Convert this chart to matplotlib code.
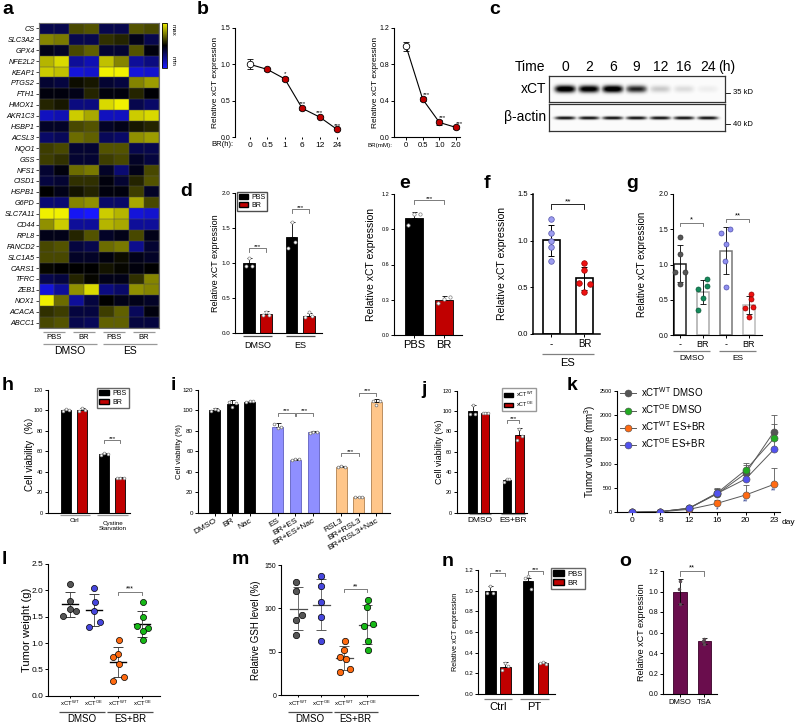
import numpy as np
import matplotlib
matplotlib.use("Agg")
import matplotlib.pyplot as plt
from matplotlib.transforms import blended_transform_factory
from matplotlib.colors import LinearSegmentedColormap
from matplotlib.patches import Patch
from matplotlib.lines import Line2D

plt.rcParams['font.family'] = ['Liberation Sans', 'DejaVu Sans']
plt.rcParams['axes.linewidth'] = 0.8
plt.rcParams['mathtext.default'] = 'regular'

W, H = 797, 722
fig = plt.figure(figsize=(W / 100, H / 100), dpi=100)

# ======================= DATA =======================
# a: heatmap
hm_genes = ['CS', 'SLC3A2', 'GPX4', 'NFE2L2', 'KEAP1', 'PTGS2', 'FTH1', 'HMOX1', 'AKR1C3', 'HSBP1',
            'ACSL3', 'NQO1', 'GSS', 'NFS1', 'CISD1', 'HSPB1', 'G6PD', 'SLC7A11', 'CD44', 'RPL8',
            'FANCD2', 'SLC1A5', 'CARS1', 'TFRC', 'ZEB1', 'NOX1', 'ACACA', 'ABCC1']
hm_values = np.array([
    [-0.30, -0.30, 0.30, 0.35, -0.30, -0.30, 0.35, 0.30],
    [0.55, 0.50, -0.30, -0.30, 0.20, 0.15, -0.10, -0.30],
    [-0.10, -0.15, 0.30, 0.40, -0.20, -0.20, 0.35, -0.05],
    [0.75, 0.90, -0.60, -0.70, 0.80, 0.55, -0.60, -0.50],
    [0.85, 0.80, -0.85, -0.80, 1.00, 1.00, -0.85, -0.80],
    [-0.20, -0.25, 0.05, 0.10, -0.20, -0.25, 0.55, 0.65],
    [-0.05, -0.05, -0.10, 0.15, -0.05, -0.05, 0.15, -0.02],
    [0.15, 0.10, -0.50, -0.50, 0.90, 1.00, -0.30, -0.40],
    [-0.75, -0.70, 0.85, 0.70, -0.75, -0.75, 0.85, 0.90],
    [-0.15, -0.15, 0.30, 0.35, -0.15, -0.10, 0.10, 0.15],
    [-0.40, -0.35, 0.45, 0.40, -0.35, -0.40, 0.60, 0.65],
    [0.25, 0.30, -0.20, -0.20, 0.35, 0.35, -0.30, -0.30],
    [0.25, 0.20, -0.20, -0.20, 0.25, 0.30, -0.15, -0.25],
    [-0.20, -0.05, 0.45, 0.50, -0.15, -0.45, -0.10, 0.30],
    [-0.25, -0.20, 0.20, 0.20, -0.05, -0.20, 0.15, 0.35],
    [0.00, -0.10, 0.08, 0.15, -0.05, -0.05, 0.25, -0.15],
    [-0.45, -0.45, 0.55, 0.60, -0.40, -0.40, 0.70, 0.30],
    [1.00, 1.00, -0.95, -1.00, 0.85, 0.75, -0.85, -0.80],
    [0.60, 0.85, -0.60, -0.60, 0.75, 0.70, -0.60, -0.60],
    [-0.10, -0.10, 0.15, 0.35, -0.15, -0.10, 0.30, -0.10],
    [0.30, 0.35, -0.25, -0.30, 0.45, 0.50, -0.55, -0.20],
    [0.30, 0.30, -0.15, -0.15, -0.05, 0.05, -0.10, -0.15],
    [0.03, 0.00, 0.00, 0.00, 0.08, 0.03, -0.05, 0.00],
    [-0.30, -0.25, 0.15, 0.03, -0.10, -0.10, 0.20, 0.55],
    [-0.85, -0.60, 0.60, 0.90, -0.50, -0.40, 0.60, 0.55],
    [1.00, 0.45, -0.60, -0.25, 0.00, -0.10, -0.10, -0.15],
    [0.20, 0.25, -0.25, -0.25, 0.25, 0.40, -0.35, -0.05],
    [0.30, 0.35, -0.30, -0.35, 0.40, 0.40, -0.25, -0.25],
])
hm_sub = ['PBS', 'BR', 'PBS', 'BR']
hm_groups = ['DMSO', 'ES']

# b
b1_labels = ['0', '0.5', '1', '6', '12', '24']
b1_vals = [1.0, 0.93, 0.80, 0.395, 0.275, 0.106]
b1_err = [0.07, 0.02, 0.03, 0.02, 0.02, 0.012]
b1_sig = ['', '', '*', '***', '***', '***']
b2_labels = ['0', '0.5', '1.0', '2.0']
b2_vals = [1.0, 0.415, 0.16, 0.105]
b2_err = [0.05, 0.02, 0.025, 0.012]
b2_sig = ['', '***', '***', '***']

# c: western blot
c_times = ['0', '2', '6', '9', '12', '16', '24']
c_xct = [1.0, 0.95, 1.0, 0.78, 0.28, 0.20, 0.12]
c_actin = [0.85, 0.85, 0.85, 0.85, 0.85, 0.85, 0.85]

# d
d_groups = ['DMSO', 'ES']
d_pbs = [1.0, 1.37]
d_pbs_err = [0.07, 0.22]
d_br = [0.27, 0.24]
d_br_err = [0.05, 0.05]
d_pbs_pts = [[0.96, 1.07, 0.96], [1.21, 1.59, 1.30]]
d_br_pts = [[0.25, 0.30, 0.26], [0.23, 0.30, 0.24]]

# e
e_labels = ['PBS', 'BR']
e_vals = [1.0, 0.298]
e_err = [0.05, 0.03]
e_pts = [[0.94, 1.03, 1.03], [0.27, 0.31, 0.32]]

# f
f_labels = ['-', 'BR']
f_pts = [[1.23, 1.08, 1.00, 0.93, 0.78], [0.76, 0.69, 0.55, 0.54, 0.45]]

# g
g_labels = ['-', 'BR', '-', 'BR']
g_pts = [[1.39, 1.15, 0.90, 0.89, 0.72],
         [0.80, 0.70, 0.65, 0.53, 0.36],
         [1.45, 1.50, 1.29, 1.05, 0.685],
         [0.577, 0.505, 0.39, 0.40, 0.25]]

# h
h_groups = ['Ctrl', 'Cystine\nStarvation']
h_pbs = [100, 57]
h_pbs_err = [1.5, 1.0]
h_br = [100, 34]
h_br_err = [2.0, 0.6]
h_pbs_pts = [[99, 101, 100], [56, 58, 57]]
h_br_pts = [[99, 102, 100], [34, 34, 34]]

# i
i_labels = ['DMSO', 'BR', 'Nac', 'ES', 'BR+ES', 'BR+ES+Nac', 'RSL3', 'BR+RSL3', 'BR+RSL3+Nac']
i_vals = [100, 106, 108, 84, 52, 79, 45, 15, 108]
i_err = [2, 4, 1, 4, 1, 1, 0.8, 0.8, 3]
i_pts = [[99, 101, 100], [108, 103, 107], [108, 109, 109], [87, 83, 84], [52, 53, 53],
         [78, 79, 79], [45, 46, 45], [15, 15, 15], [109, 105, 109]]

# j
j_groups = ['DMSO', 'ES+BR']
j_wt = [100, 32]
j_wt_err = [6, 1.5]
j_oe = [98, 76]
j_oe_err = [1, 7]
j_wt_pts = [[97, 106, 97], [30, 33, 33]]
j_oe_pts = [[98, 98, 98], [72, 82, 75]]

# k
k_days = ['0', '8', '12', '16', '20', '23']
k_wt_dmso = [0, 15, 80, 380, 800, 1660]
k_wt_dmso_err = [0, 10, 20, 100, 170, 340]
k_oe_dmso = [0, 15, 80, 400, 870, 1520]
k_oe_dmso_err = [0, 10, 20, 90, 150, 300]
k_wt_esbr = [0, 10, 60, 185, 356, 575]
k_wt_esbr_err = [0, 8, 15, 60, 200, 330]
k_oe_esbr = [0, 15, 85, 390, 685, 1295]
k_oe_esbr_err = [0, 10, 20, 80, 120, 200]
k_sig = ['', '', '', '*', '**', '**']

# l
l_labels = ['xCT$^{WT}$', 'xCT$^{OE}$', 'xCT$^{WT}$', 'xCT$^{OE}$']
l_pts = [[2.12, 1.80, 1.64, 1.61, 1.51],
         [2.04, 1.78, 1.61, 1.39, 1.31],
         [1.06, 0.79, 0.74, 0.60, 0.36, 0.285],
         [1.77, 1.49, 1.32, 1.28, 1.23, 1.06]]

# m
m_pts = [[130, 120, 92, 87, 69],
         [137, 126, 107, 90, 62],
         [62, 52, 44, 41.5, 30, 26],
         [110, 102, 81.5, 80, 62, 52]]

# n
n_groups = ['Ctrl', 'PT']
n_pbs = [1.0, 1.09]
n_pbs_err = [0.05, 0.03]
n_br = [0.265, 0.30]
n_br_err = [0.045, 0.012]
n_pbs_pts = [[0.98, 1.05, 0.98], [1.12, 1.14, 1.02]]
n_br_pts = [[0.23, 0.30, 0.27], [0.30, 0.31, 0.29]]

# o
o_labels = ['DMSO', 'TSA']
o_vals = [1.0, 0.515]
o_err = [0.12, 0.03]
o_pts = [[1.10, 1.02, 0.88], [0.54, 0.52, 0.49]]

# ======================= HELPERS =======================
RED = '#c00000'


def make_ax(l, t, r, b, spines=('left', 'bottom')):
    ax = fig.add_axes([l / W, 1 - b / H, (r - l) / W, (b - t) / H])
    ax._px = (l, t, r, b)
    for s in ['top', 'right', 'left', 'bottom']:
        ax.spines[s].set_visible(s in spines)
    ax.tick_params(length=2, width=0.7, labelsize=5, pad=1.5)
    return ax


def fx(ax, x):
    l, t, r, b = ax._px
    return (x - l) / (r - l)


def fy(ax, y):
    l, t, r, b = ax._px
    return (b - y) / (b - t)


def ylab(ax, text, xc, fs, **kw):
    ax.set_ylabel(text, fontsize=fs, **kw)
    ax.yaxis.set_label_coords(fx(ax, xc + fs * 0.55), 0.5)


def grp(ax, x0, x1, yl, label=None, yt=None, fs=7, color='0.6', lw=0.9):
    tr = blended_transform_factory(ax.transData, ax.transAxes)
    ax.plot([x0, x1], [fy(ax, yl)] * 2, transform=tr, clip_on=False, color=color, lw=lw,
            solid_capstyle='butt')
    if label is not None:
        ax.text((x0 + x1) / 2, fy(ax, yt), label, transform=tr, ha='center', va='center',
                fontsize=fs, linespacing=1.0)


def sig(ax, x0, x1, y, h, s, fs=5, color='0.4'):
    ax.plot([x0, x0, x1, x1], [y - h, y, y, y - h], color=color, lw=0.6, clip_on=False)
    ax.annotate(s, ((x0 + x1) / 2, y), xytext=(0, -0.5), textcoords='offset points',
                ha='center', va='bottom', fontsize=fs)


def dots(ax, x, ys, offs, fc, ec, ms, lw=0.5, z=5):
    ys = np.asarray(ys, float)
    xs = x + np.asarray(offs, float)[:len(ys)]
    ax.scatter(xs, ys, s=ms ** 2, c=fc, edgecolors=ec, linewidths=lw, zorder=z, clip_on=False)


def barset(ax, xs, vals, errs, color, width, ec='black', lw=0.6, up_only=True):
    ax.bar(xs, vals, width, color=color, edgecolor=ec, linewidth=lw, zorder=2)
    lo = np.zeros(len(vals)) if up_only else errs
    ax.errorbar(xs, vals, yerr=[lo, errs], fmt='none', ecolor='black', elinewidth=0.6,
                capsize=1.8, capthick=0.6, zorder=3)


def letter(x, y, s):
    fig.text(x / W, 1 - y / H, s, fontsize=14, fontweight='bold', ha='left', va='center')


def fmt1(ticks):
    return ['%.1f' % t for t in ticks]


OFF3 = [-0.2, 0.0, 0.2]

# ======================= PANEL a =======================
cmap_hm = LinearSegmentedColormap.from_list('hm', ['#1818ff', '#000000', '#f0f000'])
ax = make_ax(39, 23, 159, 328, spines=('left', 'bottom', 'top', 'right'))
im = ax.imshow(hm_values, cmap=cmap_hm, vmin=-1, vmax=1, aspect='auto', interpolation='nearest')
ax.set_xticks(np.arange(-0.5, 8, 1), minor=True)
ax.set_yticks(np.arange(-0.5, len(hm_genes), 1), minor=True)
ax.grid(which='minor', color='#505050', lw=0.35)
ax.tick_params(which='minor', length=0)
ax.set_xticks([])
ax.set_yticks(range(len(hm_genes)))
ax.set_yticklabels(hm_genes, fontstyle='italic', fontsize=5.2)
ax.tick_params(axis='y', length=2, width=0.5, pad=1)
for s in ax.spines.values():
    s.set_color('#707070')
    s.set_linewidth(0.8)
for k, lab in enumerate(hm_sub):
    grp(ax, 2 * k - 0.25, 2 * k + 1.25, 331.5, lab, 337.5, fs=5.5)
for k, lab in enumerate(hm_groups):
    grp(ax, 4 * k - 0.25, 4 * k + 3.35, 343.5, lab, 351, fs=7.5)

cax = make_ax(162, 23, 167, 68, spines=('left', 'bottom', 'top', 'right'))
cb = fig.colorbar(im, cax=cax)
cb.set_ticks([])
cb.outline.set_linewidth(0.6)
cax.text(2.2, 0.85, 'max', rotation=270, transform=cax.transAxes, fontsize=4.5, ha='center', va='center')
cax.text(2.2, 0.15, 'min', rotation=270, transform=cax.transAxes, fontsize=4.5, ha='center', va='center')

# ======================= PANEL b =======================
ax = make_ax(235, 28, 342, 137, spines=('left',))
x = np.arange(len(b1_vals))
ax.errorbar(x, b1_vals, yerr=b1_err, fmt='none', ecolor='black', elinewidth=0.6, capsize=2,
            capthick=0.6, zorder=2)
ax.plot(x, b1_vals, color='black', lw=0.8, zorder=3)
ax.scatter(x[:1], b1_vals[:1], s=22, facecolor='white', edgecolor='black', lw=0.6, zorder=4)
ax.scatter(x[1:], b1_vals[1:], s=22, facecolor=RED, edgecolor='black', lw=0.6, zorder=4)
for xi, v, e, s in zip(x, b1_vals, b1_err, b1_sig):
    if s:
        ax.text(xi, v + e + 0.01, s, ha='center', va='bottom', fontsize=4.5)
ax.set_xlim(-0.86, 5.29)
ax.set_ylim(0, 1.5)
ax.set_yticks([0, 0.5, 1.0, 1.5])
ax.set_yticklabels(fmt1([0, 0.5, 1.0, 1.5]))
ax.set_xticks(x)
ax.set_xticklabels(b1_labels, fontsize=6)
ax.tick_params(axis='x', length=1.5, pad=2)
ax.text(fx(ax, 233), fy(ax, 145), 'BR(h):', transform=ax.transAxes, ha='right', va='center', fontsize=5.5)
ylab(ax, 'Relative xCT expression', 216, 6)

ax = make_ax(394, 28, 460, 137)
x = np.arange(len(b2_vals))
ax.errorbar(x, b2_vals, yerr=b2_err, fmt='none', ecolor='black', elinewidth=0.6, capsize=2,
            capthick=0.6, zorder=2)
ax.plot(x, b2_vals, color='black', lw=0.8, zorder=3)
ax.scatter(x[:1], b2_vals[:1], s=22, facecolor='white', edgecolor='black', lw=0.6, zorder=4)
ax.scatter(x[1:], b2_vals[1:], s=22, facecolor=RED, edgecolor='black', lw=0.6, zorder=4)
for xi, v, e, s in zip(x, b2_vals, b2_err, b2_sig):
    if s:
        ax.text(xi + 0.2, v + e + 0.005, s, ha='center', va='bottom', fontsize=4.5)
ax.set_xlim(-0.72, 3.23)
ax.set_ylim(0, 1.2)
ax.set_yticks([0, 0.4, 0.8, 1.2])
ax.set_yticklabels(fmt1([0, 0.4, 0.8, 1.2]))
ax.set_xticks(x)
ax.set_xticklabels(b2_labels, fontsize=5.5)
ax.text(fx(ax, 392), fy(ax, 146), 'BR(mM):', transform=ax.transAxes, ha='right', va='center', fontsize=4.5)
ylab(ax, 'Relative xCT expression', 376, 6)

# ======================= PANEL c =======================
lane_x = np.linspace(16, 159, len(c_times))
bw = 176.0


def blot_image(ints, sy, yc, hpx, sx=11.0):
    xs = np.linspace(0, bw, 360)
    ys = np.linspace(0, hpx, 60)
    X, Y = np.meshgrid(xs, ys)
    img = np.full(X.shape, 0.03)
    for c, a in zip(lane_x, ints):
        prof = np.exp(-(np.abs(X - c) / sx) ** 4) * np.exp(-((Y - yc) / sy) ** 2)
        img = np.maximum(img, a * prof)
    return np.clip(img * 1.15, 0, 1), hpx


for (t, b), ints, sy, yc, lab, kd in [((76, 102), c_xct, 4.2, 13, 'xCT', '35 kD'),
                                       ((104, 131), c_actin, 1.9, 14, 'β-actin', '40 kD')]:
    ax = make_ax(549, t, 725, b, spines=('left', 'bottom', 'top', 'right'))
    img, hpx = blot_image(ints, sy, yc, b - t)
    ax.imshow(img, cmap='Greys', vmin=0, vmax=1, aspect='auto', extent=(0, bw, hpx, 0),
              interpolation='bilinear')
    ax.set_xlim(0, bw)
    ax.set_ylim(hpx, 0)
    ax.set_xticks([])
    ax.set_yticks([])
    for s in ax.spines.values():
        s.set_linewidth(0.9)
        s.set_color('#333333')
    ax.text(fx(ax, 546), 0.5, lab, transform=ax.transAxes, ha='right', va='center', fontsize=10)
    yk = 93 if lab == 'xCT' else 124
    ax.plot([1.0, 1.03], [fy(ax, yk)] * 2, transform=ax.transAxes, color='black', lw=0.6, clip_on=False)
    ax.text(1.045, fy(ax, yk), kd, transform=ax.transAxes, ha='left', va='center', fontsize=5.5)
    if lab == 'xCT':
        for lx, tt in zip(lane_x, c_times):
            ax.text(lx, fy(ax, 67), tt, transform=blended_transform_factory(ax.transData, ax.transAxes),
                    ha='center', va='center', fontsize=10)
        ax.text(fx(ax, 545), fy(ax, 67), 'Time', transform=ax.transAxes, ha='right', va='center', fontsize=10)
        ax.text(fx(ax, 718), fy(ax, 67), '(h)', transform=ax.transAxes, ha='left', va='center', fontsize=10)

# ======================= PANEL d =======================
ax = make_ax(235, 193, 322, 333)
xp = np.array([0, 2.5])
xb = xp + 1
barset(ax, xp, d_pbs, d_pbs_err, 'black', 0.7)
barset(ax, xb, d_br, d_br_err, RED, 0.7)
for xi, pts in zip(xp, d_pbs_pts):
    dots(ax, xi, pts, OFF3, 'white', '0.55', 2.2)
for xi, pts in zip(xb, d_br_pts):
    dots(ax, xi, pts, OFF3, 'white', '0.55', 2.2)
ax.set_xlim(-0.82, 4.29)
ax.set_ylim(0, 2.0)
ax.set_yticks([0, 0.5, 1.0, 1.5, 2.0])
ax.set_yticklabels(fmt1([0, 0.5, 1.0, 1.5, 2.0]), fontsize=4.5)
ax.set_xticks([])
ylab(ax, 'Relative xCT expression', 216, 6.5)
sig(ax, 0, 1, 1.21, 0.06, '***', fs=4.5)
sig(ax, 2.5, 3.5, 1.77, 0.06, '***', fs=4.5)
grp(ax, -0.35, 1.35, 336, d_groups[0], 346, fs=6.5, color='0.3')
grp(ax, 2.15, 3.9, 336, d_groups[1], 346, fs=6.5, color='0.3')
ax.legend(handles=[Patch(fc='black', ec='black', label='PBS'), Patch(fc=RED, ec='black', label='BR')],
          loc='upper left', bbox_to_anchor=(fx(ax, 237), fy(ax, 192)), fontsize=5,
          handlelength=1.4, handleheight=0.7, borderpad=0.25, labelspacing=0.2, handletextpad=0.4,
          fancybox=False, edgecolor='0.3', framealpha=1, borderaxespad=0)

# ======================= PANEL e =======================
ax = make_ax(394, 194, 462, 335)
x = np.arange(2)
barset(ax, x, e_vals, e_err, ['black', RED], 0.6)
for xi, pts in zip(x, e_pts):
    dots(ax, xi, pts, OFF3, 'white', '0.5', 2.4)
ax.set_xlim(-0.67, 1.6)
ax.set_ylim(0, 1.2)
ax.set_yticks([0, 0.3, 0.6, 0.9, 1.2])
ax.set_yticklabels(fmt1([0, 0.3, 0.6, 0.9, 1.2]), fontsize=4)
ax.set_xticks(x)
ax.set_xticklabels(e_labels, fontsize=8)
ylab(ax, 'Relative xCT expression', 372, 7.5)
sig(ax, 0, 1, 1.145, 0.03, '***', fs=4.5)

# ======================= PANEL f =======================
ax = make_ax(533, 194, 600, 334)
x = np.arange(2)
f_mean = [np.mean(p) for p in f_pts]
f_sd = [np.std(p, ddof=1) for p in f_pts]
ax.bar(x, f_mean, 0.52, color='white', edgecolor='black', linewidth=1.2, zorder=2)
ax.errorbar(x, f_mean, yerr=f_sd, fmt='none', ecolor='black', elinewidth=0.7, capsize=2, capthick=0.7, zorder=3)
dots(ax, 0, f_pts[0], [0, 0, 0, 0, 0], '#9c9cf0', '#5555aa', 4.0)
dots(ax, 1, f_pts[1], [0, 0, -0.18, 0.18, 0], '#ee1111', '#990000', 4.0)
ax.set_xlim(-0.56, 1.47)
ax.set_ylim(0, 1.5)
ax.set_yticks([0, 0.5, 1.0, 1.5])
ax.set_yticklabels(fmt1([0, 0.5, 1.0, 1.5]), fontsize=5.5)
ax.spines['left'].set_linewidth(1.1)
ax.spines['bottom'].set_linewidth(1.1)
ax.set_xticks(x)
ax.set_xticklabels(f_labels, fontsize=7)
ylab(ax, 'Relative xCT expression', 503, 7.5)
sig(ax, 0, 1, 1.39, 0.05, '**', fs=6, color='black')
grp(ax, -0.3, 1.3, 354, 'ES', 363, fs=8, color='0.5')

# ======================= PANEL g =======================
ax = make_ax(673, 194, 762, 335)
x = np.arange(4)
g_mean = [np.mean(p) for p in g_pts]
g_sd = [np.std(p, ddof=1) for p in g_pts]
g_edges = ['#222222', '#aaaaaa', '#777777', '#bbbbbb']
g_fc = ['#555555', '#138a5a', '#8f8ff0', '#ee1111']
g_ec = ['#333333', '#0a5a3a', '#5050aa', '#990000']
ax.bar(x, g_mean, 0.55, color='white', edgecolor=g_edges, linewidth=1.1, zorder=2)
ax.errorbar(x, g_mean, yerr=g_sd, fmt='none', ecolor='black', elinewidth=0.6, capsize=2, capthick=0.6, zorder=3)
g_offs = [[0, 0, -0.22, 0.22, 0], [0.2, 0.2, -0.2, 0, -0.2], [-0.2, 0.2, 0, -0.05, 0], [0.1, 0.1, -0.18, 0.18, 0]]
for xi, pts, fc, ec, of in zip(x, g_pts, g_fc, g_ec, g_offs):
    dots(ax, xi, pts, of, fc, ec, 3.6)
ax.set_xlim(-0.3, 3.57)
ax.set_ylim(0, 2.0)
ax.set_yticks([0, 0.5, 1.0, 1.5, 2.0])
ax.set_yticklabels(fmt1([0, 0.5, 1.0, 1.5, 2.0]), fontsize=5)
ax.set_xticks(x)
ax.set_xticklabels(g_labels, fontsize=6.5)
ylab(ax, 'Relative xCT expression', 643, 7)
sig(ax, 0, 1, 1.59, 0.05, '*', fs=5.5)
sig(ax, 2, 3, 1.65, 0.05, '**', fs=5.5)
grp(ax, -0.3, 1.3, 351, 'DMSO', 359, fs=6, color='0.5')
grp(ax, 1.7, 3.3, 351, 'ES', 359, fs=6, color='0.5')

# ======================= PANEL h =======================
ax = make_ax(48, 390, 130, 512.7)
xp = np.array([0, 2.4])
xb = xp + 1
barset(ax, xp, h_pbs, h_pbs_err, 'black', 0.62)
barset(ax, xb, h_br, h_br_err, RED, 0.62)
for xi, pts in zip(np.r_[xp, xb], h_pbs_pts + h_br_pts):
    dots(ax, xi, pts, OFF3, 'white', '0.5', 2.0)
ax.set_xlim(-1.125, 4.0)
ax.set_ylim(0, 120)
ax.set_yticks(range(0, 121, 20))
ax.tick_params(axis='y', labelsize=4)
ax.set_xticks([])
ax.set_ylabel('Cell viability（%）', fontsize=7, family=['Liberation Sans', 'Noto Sans CJK SC'])
ax.yaxis.set_label_coords(fx(ax, 35), 0.5)
sig(ax, 2.4, 3.4, 71, 2.5, '***', fs=4.5)
grp(ax, -0.4, 1.5, 515, h_groups[0], 521, fs=4.5, color='0.6')
grp(ax, 1.95, 3.9, 515, h_groups[1], 526, fs=4.5, color='0.6')
ax.legend(handles=[Patch(fc='black', ec='black', label='PBS'), Patch(fc=RED, ec='black', label='BR')],
          loc='upper left', bbox_to_anchor=(fx(ax, 97), fy(ax, 388)), fontsize=5,
          handlelength=1.4, handleheight=0.8, borderpad=0.3, labelspacing=0.25, handletextpad=0.5,
          fancybox=False, edgecolor='0.4', framealpha=1, borderaxespad=0)

# ======================= PANEL i =======================
ax = make_ax(198, 390, 390, 512.7)
i_x = np.array([0, 1, 2, 3.6, 4.6, 5.6, 7.2, 8.2, 9.2])
i_col = ['black'] * 3 + ['#8f8fff'] * 3 + ['#ffc68a'] * 3
i_ec = ['black'] * 3 + ['#6060c0'] * 3 + ['#b08050'] * 3
barset(ax, i_x, i_vals, i_err, i_col, 0.62, ec=i_ec, lw=0.6)
for xi, pts in zip(i_x, i_pts):
    dots(ax, xi, pts, OFF3, 'white', '0.45', 2.0)
ax.set_xlim(-0.94, 9.97)
ax.set_ylim(0, 120)
ax.set_yticks(range(0, 121, 20))
ax.tick_params(axis='y', labelsize=4.5)
ax.set_xticks(i_x)
ax.set_xticklabels(i_labels, rotation=30, ha='right', rotation_mode='anchor', fontsize=6)
ax.tick_params(axis='x', pad=1)
ylab(ax, 'Cell viability (%)', 180, 5.5)
sig(ax, 3.6, 4.55, 97.8, 3, '***', fs=4.5)
sig(ax, 4.65, 5.6, 97.8, 3, '***', fs=4.5)
sig(ax, 7.2, 8.2, 58.4, 3, '***', fs=4.5)
sig(ax, 8.2, 9.2, 117.4, 3, '***', fs=4.5)

# ======================= PANEL j =======================
ax = make_ax(457, 390.7, 527, 512.7)
xp = np.array([0, 2.75])
xb = xp + 1
barset(ax, xp, j_wt, j_wt_err, 'black', 0.7)
barset(ax, xb, j_oe, j_oe_err, RED, 0.7)
for xi, pts in zip(np.r_[xp, xb], j_wt_pts + j_oe_pts):
    dots(ax, xi, pts, OFF3, 'white', '0.5', 2.0)
ax.set_xlim(-1.24, 4.36)
ax.set_ylim(0, 120)
ax.set_yticks(range(0, 121, 20))
ax.tick_params(axis='y', labelsize=4)
ax.set_xticks([])
ylab(ax, 'Cell viability (%)', 440, 6.5)
sig(ax, 2.75, 3.75, 91, 2.5, '***', fs=4.5)
grp(ax, -0.3, 1.5, 514, j_groups[0], 521, fs=6, color='0.6')
grp(ax, 2.3, 4.2, 514, j_groups[1], 521, fs=6, color='0.6')
ax.legend(handles=[Patch(fc='black', ec='black', label='xCT$^{WT}$'),
                   Patch(fc=RED, ec='black', label='xCT$^{OE}$')],
          loc='upper left', bbox_to_anchor=(fx(ax, 502), fy(ax, 388)), fontsize=4,
          handlelength=1.6, handleheight=0.6, borderpad=0.3, labelspacing=0.15, handletextpad=0.6,
          fancybox=False, edgecolor='0.6', framealpha=1, borderaxespad=0)

# ======================= PANEL k =======================
ax = make_ax(617, 390.7, 780, 512.3)
x = np.arange(len(k_days))
k_series = [(k_wt_dmso, k_wt_dmso_err, '#555555', 'xCT$^{WT}$ DMSO'),
            (k_oe_dmso, k_oe_dmso_err, '#22aa22', 'xCT$^{OE}$ DMSO'),
            (k_wt_esbr, k_wt_esbr_err, '#ff6a13', 'xCT$^{WT}$ ES+BR'),
            (k_oe_esbr, k_oe_esbr_err, '#5252ee', 'xCT$^{OE}$ ES+BR')]
handles = []
for vals, errs, col, lab in k_series:
    ax.errorbar(x, vals, yerr=[np.zeros(len(errs)), errs], fmt='none', ecolor='0.35', elinewidth=0.6,
                capsize=2, capthick=0.6, zorder=2)
    ax.plot(x, vals, color='0.35', lw=0.7, zorder=3)
    ax.scatter(x, vals, s=26, c=col, edgecolors='0.3', linewidths=0.4, zorder=4)
    handles.append(Line2D([0], [0], color='0.35', lw=0.7, marker='o', ms=5, mfc=col, mec='0.3', mew=0.4, label=lab))
for xi, v, s in zip(x, k_wt_esbr, k_sig):
    if s:
        ax.text(xi, v - 60, s, ha='center', va='top', fontsize=5, color='#2a3a8a')
ax.set_xlim(-0.53, 5.21)
ax.set_ylim(0, 2500)
ax.set_yticks(range(0, 2501, 500))
ax.tick_params(axis='y', labelsize=4)
ax.set_xticks(x)
ax.set_xticklabels(k_days, fontsize=6)
ax.text(fx(ax, 782), fy(ax, 522), 'day', transform=ax.transAxes, ha='left', va='center', fontsize=6)
ylab(ax, 'Tumor volume (mm$^3$)', 594, 7)
ax.legend(handles=handles, loc='upper left', bbox_to_anchor=(fx(ax, 620), fy(ax, 385)), fontsize=7,
          frameon=False, handlelength=1.6, handletextpad=0.6, labelspacing=0.35, borderaxespad=0,
          borderpad=0)

# ======================= PANEL l =======================
l_cols = ['#555555', '#4646dd', '#ff6a10', '#16b816']
ax = make_ax(48, 564, 160, 695.7)
x = np.arange(4)
l_offs = [[0, 0, 0, 0.27, -0.27], [0.02, 0.05, 0, 0.24, -0.21],
          [0.03, 0, -0.2, 0.03, 0.27, -0.2], [0.03, 0.03, -0.22, 0.26, 0.03, 0.03]]
for xi, pts, col, of in zip(x, l_pts, l_cols, l_offs):
    m = np.mean(pts)
    sd = np.std(pts, ddof=1)
    ax.plot([xi - 0.33, xi + 0.33], [m, m], color='black', lw=1.0, zorder=3)
    ax.errorbar([xi], [m], yerr=[[sd], [sd]], fmt='none', ecolor='0.25', elinewidth=0.6, capsize=3.5,
                capthick=0.7, zorder=3)
    dots(ax, xi, pts, of, col, 'black', 4.4, lw=0.5)
ax.set_xlim(-0.89, 3.74)
ax.set_ylim(0, 2.5)
ax.set_yticks([0, 0.5, 1.0, 1.5, 2.0, 2.5])
ax.set_yticklabels(fmt1([0, 0.5, 1.0, 1.5, 2.0, 2.5]), fontsize=6)
ax.set_xticks(x)
ax.set_xticklabels(l_labels, fontsize=4.3)
ax.tick_params(axis='x', length=1.5, pad=1)
ylab(ax, 'Tumor weight (g)', 28, 8)
sig(ax, 2, 3, 1.97, 0.06, '***', fs=5)
grp(ax, -0.45, 1.45, 711.5, 'DMSO', 718.5, fs=7, color='0.3')
grp(ax, 1.55, 3.45, 711.5, 'ES+BR', 718.5, fs=7, color='0.3')

# ======================= PANEL m =======================
ax = make_ax(281, 565, 418, 695)
m_offs = [[-0.1, -0.1, 0.15, -0.1, -0.1], [0, 0, 0, 0, 0],
          [0.05, 0.0, -0.2, 0.08, 0.24, -0.2], [0.03, 0, 0.27, -0.16, 0.03, 0.03]]
for xi, pts, col, of in zip(x, m_pts, l_cols, m_offs):
    mval = np.mean(pts)
    sd = np.std(pts, ddof=1)
    ax.plot([xi - 0.37, xi + 0.37], [mval, mval], color='0.3', lw=0.9, zorder=3)
    ax.errorbar([xi], [mval], yerr=[[sd], [sd]], fmt='none', ecolor='0.35', elinewidth=0.6, capsize=3.5,
                capthick=0.7, zorder=3)
    dots(ax, xi, pts, of, col, 'black', 4.6, lw=0.5)
ax.set_xlim(-0.74, 5.2)
ax.set_ylim(0, 150)
ax.set_yticks([0, 50, 100, 150])
ax.tick_params(axis='y', labelsize=5)
ax.set_xticks(x)
ax.set_xticklabels(l_labels, fontsize=4.3)
ax.tick_params(axis='x', length=1.5, pad=1)
ylab(ax, 'Relative GSH level (%)', 257, 7)
sig(ax, 2, 3, 122, 3.5, '**', fs=5)
grp(ax, -0.45, 1.45, 712, 'DMSO', 718.5, fs=7, color='0.3')
grp(ax, 1.55, 3.45, 712, 'ES+BR', 718.5, fs=7, color='0.3')

# ======================= PANEL n =======================
ax = make_ax(478, 570, 555, 694)
xp = np.array([0, 2.5])
xb = xp + 1
barset(ax, xp, n_pbs, n_pbs_err, 'black', 0.73)
barset(ax, xb, n_br, n_br_err, RED, 0.73)
for xi, pts in zip(np.r_[xp, xb], n_pbs_pts + n_br_pts):
    dots(ax, xi, pts, OFF3, 'white', '0.5', 2.0)
ax.set_xlim(-0.83, 4.3)
ax.set_ylim(0, 1.2)
ax.set_yticks(np.arange(0, 1.21, 0.2))
ax.set_yticklabels(fmt1(np.arange(0, 1.21, 0.2)), fontsize=4.5)
ax.set_xticks([])
ylab(ax, 'Relative xCT expression', 456, 5.2)
sig(ax, 0, 1, 1.17, 0.03, '***', fs=4.5)
sig(ax, 2.5, 3.5, 1.19, 0.03, '***', fs=4.5)
grp(ax, -0.4, 1.45, 699, n_groups[0], 707, fs=8, color='0.5')
grp(ax, 1.95, 3.9, 699, n_groups[1], 707, fs=8, color='0.5')
ax.legend(handles=[Patch(fc='black', ec='black', label='PBS'), Patch(fc=RED, ec='black', label='BR')],
          loc='upper left', bbox_to_anchor=(fx(ax, 551), fy(ax, 568)), fontsize=5.5,
          handlelength=1.4, handleheight=0.7, borderpad=0.3, labelspacing=0.2, handletextpad=0.5,
          fancybox=False, edgecolor='0.4', framealpha=1, borderaxespad=0)

# ======================= PANEL o =======================
ax = make_ax(663, 571, 717, 694)
x = np.arange(2)
barset(ax, x, o_vals, o_err, '#6a0d4d', 0.55, ec='#3a0028', up_only=False)
for xi, pts in zip(x, o_pts):
    dots(ax, xi, pts, [0.0, -0.05, 0.0], '#6a4a5a', '0.3', 2.0)
ax.set_xlim(-0.69, 1.51)
ax.set_ylim(0, 1.2)
ax.set_yticks(np.arange(0, 1.21, 0.2))
ax.set_yticklabels(fmt1(np.arange(0, 1.21, 0.2)), fontsize=5)
ax.set_xticks(x)
ax.set_xticklabels(o_labels, fontsize=5.5)
ylab(ax, 'Relative xCT expression', 642, 6.5)
sig(ax, 0, 1, 1.2, 0.05, '**', fs=5.5)

# ======================= LETTERS =======================
for s, xx, yy in [('a', 2, 10), ('b', 197, 10), ('c', 489, 10), ('d', 180, 191), ('e', 399, 183),
                  ('f', 484, 183), ('g', 626, 183), ('h', 2, 386), ('i', 171, 386), ('j', 421, 389),
                  ('k', 567, 386), ('l', 2, 559), ('m', 232, 560), ('n', 442, 562), ('o', 619, 562)]:
    letter(xx, yy, s)

fig.savefig('out.png', dpi=100)
